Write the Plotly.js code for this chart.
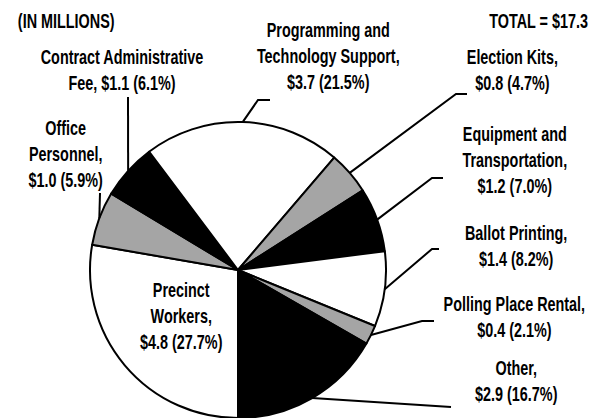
<!DOCTYPE html>
<html>
<head>
<meta charset="utf-8">
<script src="https://cdn.plot.ly/plotly-3.0.1.min.js"></script>
<style>html,body{margin:0;padding:0;background:#fff}#chart{width:608px;height:418px}</style>
</head>
<body>
<div id="chart"></div>
<script>
// ---- data ----
var categories = ["Precinct Workers", "Office Personnel", "Contract Administrative Fee",
  "Programming and Technology Support", "Election Kits", "Equipment and Transportation",
  "Ballot Printing", "Polling Place Rental", "Other"];
var amounts = [4.8, 1.0, 1.1, 3.7, 0.8, 1.2, 1.4, 0.4, 2.9];      // $ millions
var percents = [27.7, 5.9, 6.1, 21.5, 4.7, 7.0, 8.2, 2.1, 16.7];  // share of total
var labelTexts = [
  "Precinct<br>Workers,<br>$4.8 (27.7%)",
  "Office<br>Personnel,<br>$1.0 (5.9%)",
  "Contract Administrative<br>Fee, $1.1 (6.1%)",
  "Programming and<br>Technology Support,<br>$3.7 (21.5%)",
  "Election Kits,<br>$0.8 (4.7%)",
  "Equipment and<br>Transportation,<br>$1.2 (7.0%)",
  "Ballot Printing,<br>$1.4 (8.2%)",
  "Polling Place Rental,<br>$0.4 (2.1%)",
  "Other,<br>$2.9 (16.7%)"
];
var unitsNote = "(IN MILLIONS)";
var totalNote = "TOTAL = $17.3";

// ---- styling / layout ----
var W = 608, H = 418;
var cx = 238, cy = 270, R = 148;
var sliceColors = ["#ffffff", "#a5a5a5", "#000000", "#ffffff", "#a5a5a5", "#000000", "#ffffff", "#a5a5a5", "#000000"];
var FONT = {family: "'Liberation Sans', Arial, sans-serif", size: 20, color: "#000", weight: "bold"};
var NARROW = 0.72; // horizontal condensing of label text

// label block centre positions (px) and leader elbows/ends (px), per slice
var labelPos = [[181, 316], [65, 154], [122, 70], [328, 56], [512, 70], [515, 160], [516, 246], [514, 317], [516, 381]];
var leader = [
  null,
  [[100, 193]],
  [[128, 97]],
  [[258, 100], [270, 100]],
  [[456, 94], [467, 94]],
  [[432, 178], [443, 178]],
  [[432, 249], [439, 249]],
  [[422, 321], [434, 321]],
  [[451, 407]]
];

function px(x) { return x / W; }
function py(y) { return 1 - y / H; }

var total = percents.reduce(function (a, b) { return a + b; }, 0);
var shapes = [];
var annotations = [];
var cum = 0;
for (var i = 0; i < percents.length; i++) {
  var mid = (cum + percents[i] / 2) / total;
  cum += percents[i];
  var th = (180 + mid * 360) * Math.PI / 180; // clockwise from 12 o'clock
  var sx = cx + R * Math.sin(th), sy = cy - R * Math.cos(th);
  if (leader[i]) {
    var d = "M" + px(sx) + "," + py(sy);
    leader[i].forEach(function (p) { d += " L" + px(p[0]) + "," + py(p[1]); });
    shapes.push({type: "path", xref: "paper", yref: "paper", path: d, line: {color: "#000", width: 2}});
  }
  annotations.push({
    text: labelTexts[i], xref: "paper", yref: "paper",
    x: px(labelPos[i][0]), y: py(labelPos[i][1]),
    xanchor: "center", yanchor: "middle", showarrow: false, align: "center", font: FONT
  });
}
annotations.push({text: unitsNote, xref: "paper", yref: "paper", x: px(65.5), y: py(21),
  xanchor: "center", yanchor: "middle", showarrow: false, font: FONT});
annotations.push({text: totalNote, xref: "paper", yref: "paper", x: px(538.5), y: py(21),
  xanchor: "center", yanchor: "middle", showarrow: false, font: FONT});

var trace = {
  type: "pie",
  labels: categories,
  values: percents,
  customdata: amounts,
  sort: false,
  direction: "clockwise",
  rotation: 180,
  textinfo: "none",
  hoverinfo: "none",
  marker: {colors: sliceColors, line: {color: "#000", width: 2}},
  domain: {x: [px(cx - R), px(cx + R)], y: [0, (2 * R) / H]},
  showlegend: false
};

var layout = {
  width: W, height: H,
  margin: {l: 0, r: 0, t: 0, b: 0},
  paper_bgcolor: "#fff",
  showlegend: false,
  shapes: shapes,
  annotations: annotations
};

Plotly.newPlot("chart", [trace], layout, {displayModeBar: false, staticPlot: true}).then(function (gd) {
  gd.querySelectorAll("text.annotation-text").forEach(function (el) {
    var bb = el.getBBox();
    var c = bb.x + bb.width / 2;
    var prev = el.getAttribute("transform") || "";
    el.setAttribute("transform", prev + " translate(" + c + ",0) scale(" + NARROW + ",1) translate(" + (-c) + ",0)");
  });
});
</script>
</body>
</html>
